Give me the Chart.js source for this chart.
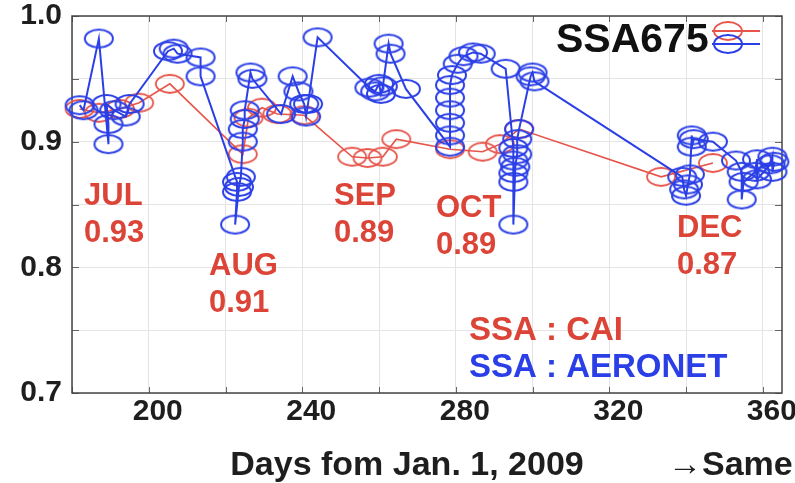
<!DOCTYPE html>
<html><head><meta charset="utf-8">
<script src="https://cdn.jsdelivr.net/npm/chart.js@4.4.1/dist/chart.umd.min.js"></script>
<style>html,body{margin:0;padding:0;background:#fff;}#wrap{position:relative;width:795px;height:483px;}</style>
</head><body><div id="wrap"><canvas id="c" width="795" height="483"></canvas></div>
<script>
// ---- data ----
const caiDays = [182, 187, 192.5, 197.5, 205.5, 224.5, 226, 229.5, 233.5, 240.5, 253, 257, 261, 264.5, 278.5, 287, 291.5, 296.5, 333.5, 347];
const caiSSA  = [0.926, 0.923, 0.926, 0.931, 0.946, 0.890, 0.919, 0.927, 0.922, 0.921, 0.888, 0.887, 0.888, 0.902, 0.894, 0.892, 0.898, 0.910, 0.872, 0.883];

const aeronetDays = [182, 183, 187, 189.5, 189.5, 189, 191, 194, 195,
  205, 206.5, 207.5, 213.5, 213.5,
  223, 223, 222.5, 223.5, 224, 224.5, 224.5, 225, 225, 226.5, 227,
  234.5, 237.5, 239, 240.5, 241, 241.5, 244,
  257.5, 259, 260, 260.5, 261, 262.5, 263, 267,
  278.5, 278.5, 278.5, 278.5, 278.5, 278.5, 279, 280.5, 282, 284.5, 286.5,
  293, 295, 295, 295, 295, 295, 295.5, 296, 296, 296.5, 299.5, 300, 300.5,
  339, 339.5, 340, 340.5, 341, 341.5, 341.5, 342, 347,
  353, 354.5, 354.5, 355, 358, 358.5, 358.5, 362, 362.5, 362.5, 363];
const aeronetSSA = [0.929, 0.925, 0.982, 0.898, 0.914, 0.930, 0.925, 0.920, 0.930,
  0.972, 0.974, 0.970, 0.967, 0.952,
  0.868, 0.860, 0.834, 0.864, 0.872, 0.900, 0.910, 0.918, 0.925, 0.955, 0.950,
  0.922, 0.952, 0.940, 0.930, 0.920, 0.930, 0.983,
  0.943, 0.940, 0.946, 0.938, 0.944, 0.978, 0.970, 0.942,
  0.896, 0.905, 0.915, 0.925, 0.935, 0.945, 0.953, 0.962, 0.968, 0.971, 0.970,
  0.958, 0.895, 0.885, 0.875, 0.868, 0.834, 0.880, 0.890, 0.902, 0.910, 0.952, 0.955, 0.948,
  0.872, 0.862, 0.857, 0.866, 0.874, 0.905, 0.896, 0.902, 0.900,
  0.885, 0.876, 0.854, 0.868, 0.876, 0.886, 0.870, 0.882, 0.888, 0.876, 0.884];

const xTickValues = [180, 200, 220, 240, 260, 280, 300, 320, 340, 360];
const xLabelValues = [200, 240, 280, 320, 360];
const yTickValues = [0.70, 0.75, 0.80, 0.85, 0.90, 0.95, 1.00];
const yLabelValues = [0.7, 0.8, 0.9, 1.0];

const monthNames = ['JUL', 'AUG', 'SEP', 'OCT', 'DEC'];
const monthMeans = ['0.93', '0.91', '0.89', '0.89', '0.87'];
const seriesNames = ['SSA : CAI', 'SSA : AERONET'];
const legendTitle = 'SSA675';
const xTitle = 'Days fom Jan. 1, 2009';
const trailingText = '\u2192Same';

// ---- styles ----
const RED = '#e6544a';
const RED_TEXT = '#dc4437';
const BLUE = '#2b3fe6';
const FONT = "'Liberation Sans', Arial, sans-serif";

function ellipseMarker(color, lw) {
  const c = document.createElement('canvas');
  c.width = 32; c.height = 22;
  const g = c.getContext('2d');
  g.strokeStyle = color; g.lineWidth = lw;
  g.beginPath();
  g.ellipse(16, 11, 14, 9, 0, 0, Math.PI * 2);
  g.stroke();
  return c;
}
const redMarker = ellipseMarker(RED, 1.8);
const blueMarker = ellipseMarker(BLUE, 2);

const monthLabelPos = [[84, 196], [209, 266], [334, 196], [436, 208], [677, 228]];

const decor = {
  id: 'decor',
  beforeDatasetsDraw(chart) {
    const {ctx, chartArea: a} = chart;
    ctx.save();
    ctx.strokeStyle = '#666'; ctx.lineWidth = 1;
    const xs = chart.scales.x, ys = chart.scales.y;
    xTickValues.forEach(v => {
      const px = Math.round(xs.getPixelForValue(v)) + 0.5;
      ctx.beginPath(); ctx.moveTo(px, a.bottom); ctx.lineTo(px, a.bottom - 6); ctx.stroke();
      ctx.beginPath(); ctx.moveTo(px, a.top); ctx.lineTo(px, a.top + 6); ctx.stroke();
    });
    yTickValues.forEach(v => {
      const py = Math.round(ys.getPixelForValue(v)) + 0.5;
      ctx.beginPath(); ctx.moveTo(a.left, py); ctx.lineTo(a.left + 7, py); ctx.stroke();
      ctx.beginPath(); ctx.moveTo(a.right, py); ctx.lineTo(a.right - 7, py); ctx.stroke();
    });
    ctx.strokeStyle = '#444'; ctx.lineWidth = 1.5;
    ctx.strokeRect(a.left, a.top, a.right - a.left, a.bottom - a.top);
    ctx.restore();
  },
  afterDraw(chart) {
    const {ctx} = chart;
    ctx.save();
    ctx.textBaseline = 'middle';
    ctx.textAlign = 'left';
    ctx.fillStyle = RED_TEXT;
    ctx.font = 'bold 31px ' + FONT;
    monthNames.forEach((m, i) => {
      const [x, y] = monthLabelPos[i];
      ctx.fillText(m, x, y);
      ctx.fillText(monthMeans[i], x, y + 37);
    });
    ctx.font = 'bold 33px ' + FONT;
    ctx.fillStyle = RED_TEXT;
    ctx.fillText(seriesNames[0], 469, 331);
    ctx.fillStyle = BLUE;
    ctx.fillText(seriesNames[1], 469, 368);
    // legend
    ctx.fillStyle = '#111';
    ctx.font = 'bold 41px ' + FONT;
    ctx.fillText(legendTitle, 556, 41);
    ctx.lineWidth = 1.8;
    ctx.strokeStyle = RED;
    ctx.beginPath(); ctx.moveTo(712, 31); ctx.lineTo(760, 31); ctx.stroke();
    ctx.drawImage(redMarker, 712, 20);
    ctx.strokeStyle = BLUE;
    ctx.lineWidth = 2;
    ctx.beginPath(); ctx.moveTo(712, 44); ctx.lineTo(760, 44); ctx.stroke();
    ctx.drawImage(blueMarker, 712, 33);
    // axis title & trailing text
    ctx.fillStyle = '#1e1e1e';
    ctx.font = 'bold 34px ' + FONT;
    ctx.textAlign = 'center';
    ctx.fillText(xTitle, 407, 466);
    ctx.textAlign = 'left';
    ctx.fillText(trailingText, 668, 466);
    ctx.restore();
  }
};

new Chart(document.getElementById('c'), {
  type: 'line',
  data: {
    datasets: [
      {
        label: seriesNames[0],
        data: caiDays.map((d, i) => ({x: d, y: caiSSA[i]})),
        borderColor: RED, borderWidth: 1.6, tension: 0,
        pointStyle: redMarker, pointRadius: 10, order: 2, clip: false
      },
      {
        label: seriesNames[1],
        data: aeronetDays.map((d, i) => ({x: d, y: aeronetSSA[i]})),
        borderColor: BLUE, borderWidth: 2, tension: 0,
        pointStyle: blueMarker, pointRadius: 10, order: 1, clip: false
      }
    ]
  },
  options: {
    responsive: false, animation: false, devicePixelRatio: 1,
    layout: {padding: {top: 16, right: 13, left: 0, bottom: 0}},
    plugins: {legend: {display: false}, tooltip: {enabled: false}},
    scales: {
      x: {
        type: 'linear', min: 180, max: 365,
        afterBuildTicks: s => { s.ticks = xTickValues.map(v => ({value: v})); },
        afterFit: s => { s.height = 90; s.paddingLeft = 0; s.paddingRight = 0; },
        grid: {color: '#e4e4e4', lineWidth: 1, drawTicks: false},
        border: {display: false},
        ticks: {
          padding: 1, labelOffset: 9, color: '#1e1e1e', maxRotation: 0, autoSkip: false,
          font: {family: FONT, size: 30, weight: 'bold'},
          callback: v => xLabelValues.includes(v) ? String(v) : ''
        }
      },
      y: {
        type: 'linear', min: 0.7, max: 1.0,
        afterBuildTicks: s => { s.ticks = yTickValues.map(v => ({value: v})); },
        afterFit: s => { s.width = 72; s.paddingTop = 0; s.paddingBottom = 0; },
        grid: {color: '#e4e4e4', lineWidth: 1, drawTicks: false},
        border: {display: false},
        ticks: {
          padding: 10, color: '#1e1e1e', autoSkip: false,
          font: {family: FONT, size: 30, weight: 'bold'},
          callback: v => yLabelValues.some(l => Math.abs(l - v) < 1e-6) ? v.toFixed(1) : ''
        }
      }
    }
  },
  plugins: [decor]
});
</script></body></html>
